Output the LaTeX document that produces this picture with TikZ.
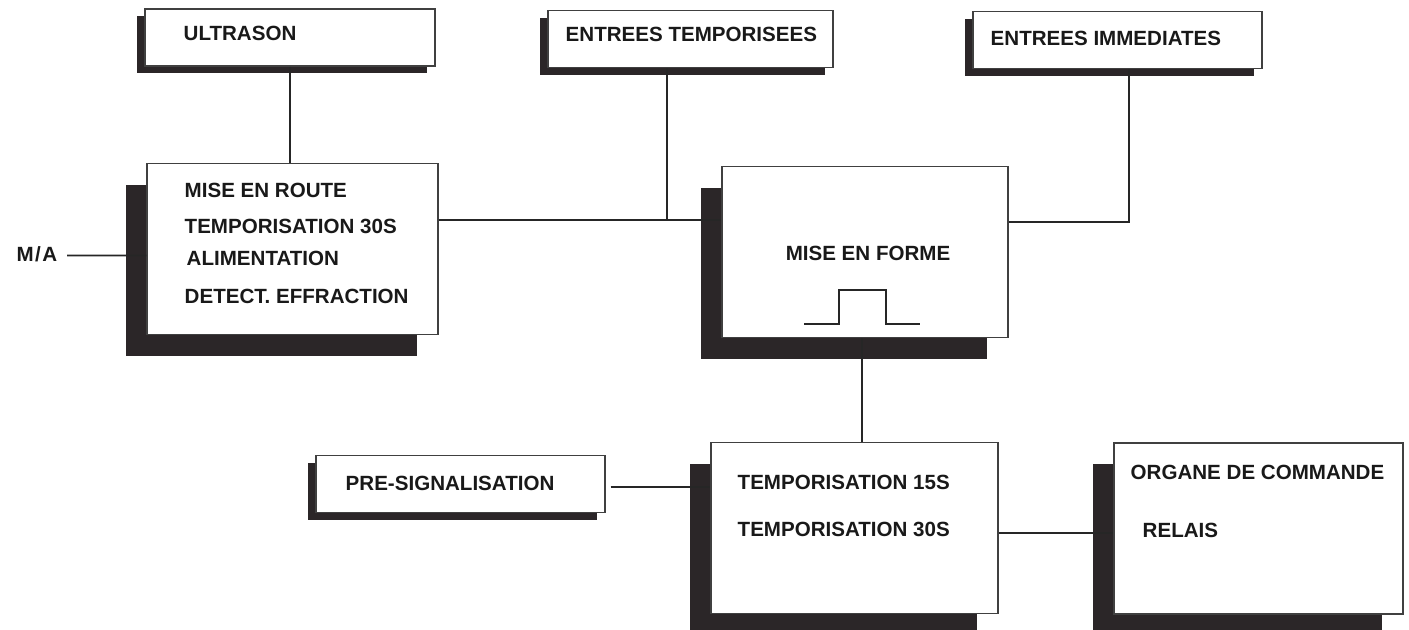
\documentclass[tikz,border=0pt]{standalone}
\usepackage{fontspec}
\setmainfont{Liberation Sans}
\usetikzlibrary{shadows}

\definecolor{shadowdark}{HTML}{2B2628}

\tikzset{
    panel/.style={draw=black!75, line width=0.4pt, fill=white, inner sep=0pt},
    smallpanel/.style={panel, minimum height=0.57cm,
        drop shadow={shadow xshift=-0.08cm, shadow yshift=-0.07cm, opacity=1, fill=shadowdark}},
    bigpanel/.style={panel, minimum height=1.71cm,
        drop shadow={shadow xshift=-0.21cm, shadow yshift=-0.21cm, opacity=1, fill=shadowdark}},
    caption/.style={anchor=west, inner sep=0pt, text=black!90,
        font=\bfseries\fontsize{5.85}{7}\selectfont},
    wire/.style={line width=0.45pt, black!85}
}

\begin{document}
\begin{tikzpicture}
    \clip (0,0) rectangle (14.09,-6.29);
    \fill[white] (0,0) rectangle (14.09,-6.29);

    % top row
    \node[smallpanel, minimum width=2.90cm] (ultra)  at (2.90,-0.375) {};
    \node[smallpanel, minimum width=2.85cm] (entemp) at (6.905,-0.39) {};
    \node[smallpanel, minimum width=2.89cm] (enimm)  at (11.175,-0.40) {};
    \node[caption] at (1.83,-0.33) {ULTRASON};
    \node[caption] at (5.65,-0.34) {ENTREES TEMPORISEES};
    \node[caption] at (9.90,-0.38) {ENTREES IMMEDIATES};

    % middle row
    \node[bigpanel, minimum width=2.91cm] (route) at (2.925,-2.49) {};
    \node[bigpanel, minimum width=2.86cm] (forme) at (8.65,-2.52) {};
    \node[caption] at (1.84,-1.90) {MISE EN ROUTE};
    \node[caption] at (1.84,-2.26) {TEMPORISATION 30S};
    \node[caption] at (1.86,-2.58) {ALIMENTATION};
    \node[caption] at (1.84,-2.96) {DETECT. EFFRACTION};
    \node[caption, anchor=east] (ma) at (0.58,-2.545) {M\kern0.015cm/\kern0.015cm A};
    \node[caption, anchor=center] at (8.68,-2.53) {MISE EN FORME};

    % pulse
    \draw[wire] (8.04,-3.24) -- (8.39,-3.24) -- (8.39,-2.90)
        -- (8.86,-2.90) -- (8.86,-3.24) -- (9.20,-3.24);

    % bottom row
    \node[smallpanel, minimum width=2.89cm] (presig) at (4.605,-4.84) {};
    \node[bigpanel, minimum width=2.87cm] (tempo)  at (8.545,-5.28) {};
    \node[bigpanel, minimum width=2.89cm] (organe) at (12.585,-5.285) {};
    \node[caption] at (3.45,-4.83) {PRE-SIGNALISATION};
    \node[caption] at (7.37,-4.82) {TEMPORISATION 15S};
    \node[caption] at (7.37,-5.29) {TEMPORISATION 30S};
    \node[caption] at (11.30,-4.72) {ORGANE DE COMMANDE};
    \node[caption] at (11.42,-5.30) {RELAIS};

    % junctions
    \coordinate (jtemp) at (6.67,-2.20);
    \coordinate (jimm)  at (11.29,-2.22);

    % connections
    \draw[wire] ([xshift=0.09cm, yshift=-0.01cm]ma.east) -- (route.west |- 0,-2.555);
    \draw[wire] (ultra.south) -- (ultra.south |- route.north);
    \draw[wire] (route.east |- jtemp) -- (forme.west |- jtemp);
    \draw[wire] (entemp.south -| jtemp) -- (jtemp);
    \draw[wire] (enimm.south -| jimm) -- (jimm) -- (forme.east |- jimm);
    \draw[wire] ([xshift=-0.03cm]forme.south) -- ([xshift=-0.03cm]forme.south |- tempo.north);
    \draw[wire] ([xshift=0.05cm, yshift=-0.03cm]presig.east) -- (tempo.west |- 0,-4.87);
    \draw[wire] ([yshift=-0.05cm]tempo.east) -- ([yshift=-0.05cm]tempo.east -| organe.west);
\end{tikzpicture}
\end{document}
